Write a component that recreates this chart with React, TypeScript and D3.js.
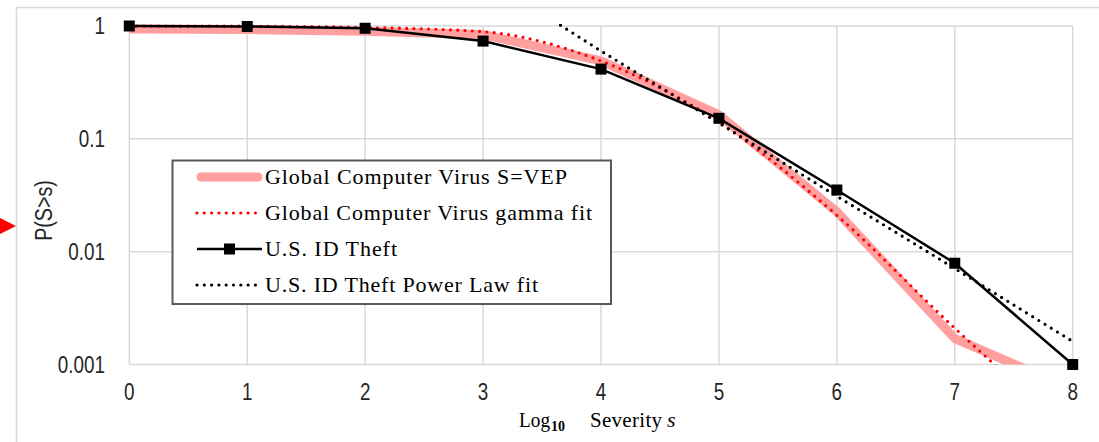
import React from 'react';
import * as d3 from 'd3';

// x axis is log10 of severity, y axis is the exceedance probability P(S>s)
const xTicks = [0, 1, 2, 3, 4, 5, 6, 7, 8];
const yTicks = [1, 0.1, 0.01, 0.001];
const yTickLabels = ['1', '0.1', '0.01', '0.001'];

// Global Computer Virus, S = VEP (wide pink band)
const vepX = [0, 1, 2, 3, 4, 5, 6, 7, 8];
const vepP = [0.94, 0.93, 0.9, 0.84, 0.49, 0.163, 0.0226, 0.0017, 0.0006];

// Global Computer Virus gamma fit (red dots)
const gammaX = [0, 1, 2, 3, 4, 5, 6, 7, 7.5];
const gammaP = [1.0, 0.995, 0.97, 0.89, 0.49, 0.14, 0.021, 0.0021, 0.0007];

// U.S. ID Theft (black line with square markers)
const theftX = [0, 1, 2, 3, 4, 5, 6, 7, 8];
const theftP = [1.0, 0.99, 0.955, 0.735, 0.415, 0.152, 0.0352, 0.0079, 0.001];

// U.S. ID Theft power law fit (black dots)
const powerX = [3.5, 4, 5, 6, 7, 8];
const powerP = [1.29, 0.6, 0.138, 0.031, 0.0071, 0.0016];

const legendLabels = [
  'Global Computer Virus S=VEP',
  'Global Computer Virus gamma fit',
  'U.S. ID Theft',
  'U.S. ID Theft Power Law fit',
];
const legendTextWidths = [302, 327, 132, 273];

const WIDTH = 1099;
const HEIGHT = 442;
const plot = { left: 129.3, right: 1072.7, top: 26, bottom: 364.5 };
// no narrow sans installed, so squeeze Liberation Sans horizontally
const tickFont = 'Liberation Sans';
const narrow = 0.82;
const serifFont = "'Liberation Serif', 'Times New Roman', serif";
const grid = '#d9d9d9';

const zip = (xs: number[], ys: number[]): [number, number][] => xs.map((v, i) => [v, ys[i]]);

export default function App() {
  const x = d3.scaleLinear().domain([0, 8]).range([plot.left, plot.right]);
  const y = d3.scaleLog().domain([0.001, 1]).range([plot.bottom, plot.top]);

  const straight = d3.line<[number, number]>()
    .x(d => x(d[0]))
    .y(d => y(d[1]));
  const smooth = d3.line<[number, number]>()
    .x(d => x(d[0]))
    .y(d => y(d[1]))
    .curve(d3.curveMonotoneX);

  const vepPath = straight(zip(vepX, vepP)) || '';
  const gammaPath = smooth(zip(gammaX, gammaP)) || '';
  const theftPts = zip(theftX, theftP);
  const theftPath = straight(theftPts) || '';
  const powerPath = straight(zip(powerX, powerP)) || '';

  const legend = { x: 172.5, y: 160.5, w: 438.5, h: 143.5 };
  const rowY = (i: number) => legend.y + 16.5 + i * 36;
  const sampleX0 = 197;
  const sampleX1 = 262;

  return (
    <svg
      width={WIDTH}
      height={HEIGHT}
      style={{ position: 'absolute', left: 0, top: 0, background: '#fff' }}
    >
      <defs>
        <clipPath id="plot-clip">
          <rect x={plot.left} y={plot.top - 2} width={plot.right - plot.left} height={plot.bottom - plot.top + 2} />
        </clipPath>
      </defs>

      {/* chart frame */}
      <rect x={16.5} y={7.5} width={1100} height={500} fill="#fff" stroke={grid} strokeWidth={1.5} />

      {/* red pointer on the left */}
      <polygon points="0,218 16,226 0,234" fill="#ff0000" />

      {/* gridlines */}
      {xTicks.map(t => (
        <line key={`gx${t}`} x1={x(t)} x2={x(t)} y1={plot.top} y2={plot.bottom} stroke={grid} strokeWidth={1.5} />
      ))}
      {yTicks.map(t => (
        <line key={`gy${t}`} x1={plot.left} x2={plot.right} y1={y(t)} y2={y(t)} stroke={grid} strokeWidth={1.5} />
      ))}

      {/* tick labels */}
      {xTicks.map(t => (
        <text
          key={`tx${t}`}
          transform={`translate(${x(t)},400) scale(${narrow},1)`}
          textAnchor="middle"
          fontFamily={tickFont}
          fontSize={23}
          fill="#262626"
        >
          {t}
        </text>
      ))}
      {yTicks.map((t, i) => (
        <text
          key={`ty${t}`}
          transform={`translate(105,${y(t) + 8}) scale(${narrow},1)`}
          textAnchor="end"
          fontFamily={tickFont}
          fontSize={23}
          fill="#262626"
        >
          {yTickLabels[i]}
        </text>
      ))}

      {/* series */}
      <g clipPath="url(#plot-clip)">
        <path d={vepPath} fill="none" stroke="#ff9f9f" strokeWidth={9} strokeLinejoin="round" />
        <path d={gammaPath} fill="none" stroke="#ff0000" strokeWidth={3.2} strokeLinecap="round" strokeDasharray="0 7.3" />
      </g>
      <path d={theftPath} fill="none" stroke="#000" strokeWidth={2.5} />
      {theftPts.map(d => (
        <rect key={`m${d[0]}`} x={x(d[0]) - 5.5} y={y(d[1]) - 5.5} width={11} height={11} fill="#000" />
      ))}
      <g clipPath="url(#plot-clip)">
        <path d={powerPath} fill="none" stroke="#000" strokeWidth={3.2} strokeLinecap="round" strokeDasharray="0 7.3" />
      </g>

      {/* legend */}
      <rect x={legend.x} y={legend.y} width={legend.w} height={legend.h} fill="#fff" stroke="#595959" strokeWidth={2} />
      <line x1={sampleX0 + 4} x2={sampleX1 - 4} y1={rowY(0)} y2={rowY(0)} stroke="#ff9f9f" strokeWidth={9} strokeLinecap="round" />
      <line x1={sampleX0} x2={sampleX1} y1={rowY(1)} y2={rowY(1)} stroke="#ff0000" strokeWidth={3.2} strokeLinecap="round" strokeDasharray="0 7.3" />
      <line x1={sampleX0} x2={sampleX1} y1={rowY(2)} y2={rowY(2)} stroke="#000" strokeWidth={2.5} />
      <rect x={(sampleX0 + sampleX1) / 2 - 5.5} y={rowY(2) - 5.5} width={11} height={11} fill="#000" />
      <line x1={sampleX0} x2={sampleX1} y1={rowY(3)} y2={rowY(3)} stroke="#000" strokeWidth={3.2} strokeLinecap="round" strokeDasharray="0 7.3" />
      {legendLabels.map((label, i) => (
        <text
          key={label}
          x={265}
          y={rowY(i) + 7}
          fontFamily={serifFont}
          fontSize={22}
          fill="#000"
          textLength={legendTextWidths[i]}
          lengthAdjust="spacing"
        >
          {label}
        </text>
      ))}

      {/* axis titles */}
      <text x={519} y={427} fontFamily={serifFont} fontSize={21} textLength={31} lengthAdjust="spacingAndGlyphs">Log</text>
      <text x={551} y={431} fontFamily={serifFont} fontSize={14} fontWeight="bold">10</text>
      <text x={590} y={427} fontFamily={serifFont} fontSize={21} textLength={72} lengthAdjust="spacing">Severity</text>
      <text x={667} y={427} fontFamily={serifFont} fontSize={22} fontStyle="italic">s</text>

      <text
        transform={`translate(52,210.5) rotate(-90) scale(${narrow},1)`}
        textAnchor="middle"
        fontFamily={tickFont}
        fontSize={24}
        fill="#262626"
      >
        P(S&gt;s)
      </text>
    </svg>
  );
}
